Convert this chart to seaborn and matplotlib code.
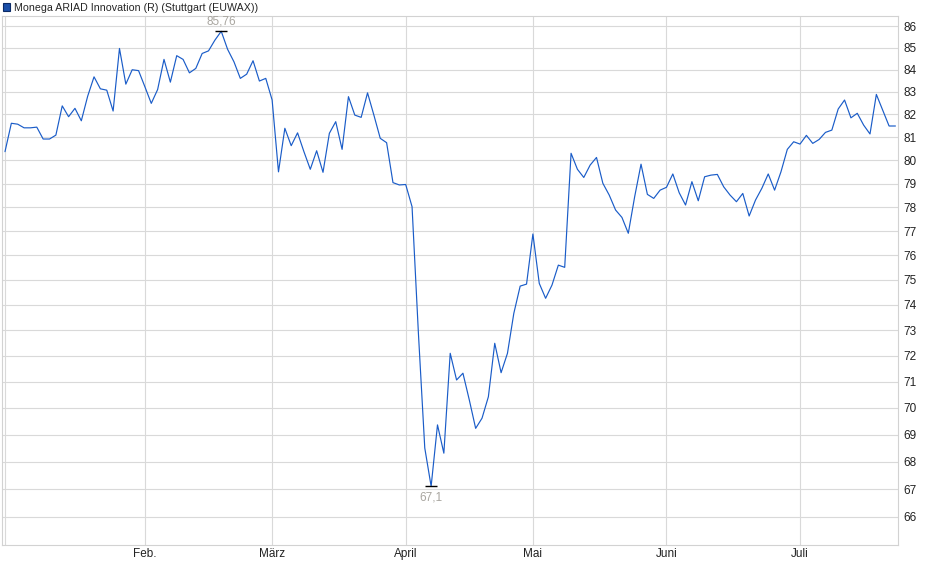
import numpy as np
import pandas as pd
import matplotlib
matplotlib.use("Agg")
import matplotlib.pyplot as plt
from matplotlib.patches import Patch
from matplotlib.ticker import FixedLocator, NullLocator
import seaborn as sns

# closing prices per trading day, 2 Jan - 22 Jul
prices = [
    80.37, 81.61, 81.57, 81.41, 81.41, 81.44, 80.92, 80.92, 81.09, 82.38,
    81.90, 82.27, 81.72, 82.81, 83.68, 83.14, 83.08, 82.15, 84.97, 83.35,
    84.00, 83.96, 83.23, 82.49, 83.11, 84.47, 83.44, 84.64, 84.47, 83.86,
    84.06, 84.74, 84.86, 85.35, 85.76, 84.93, 84.36, 83.61, 83.80, 84.41,
    83.49, 83.61, 82.64, 79.50, 81.39, 80.63, 81.19, 80.37, 79.61, 80.41,
    79.48, 81.17, 81.68, 80.47, 82.79, 81.97, 81.87, 82.96, 81.97, 80.95,
    80.76, 79.04, 78.94, 78.96, 78.02, 72.87, 68.50, 67.10, 69.36, 68.31,
    72.09, 71.06, 71.32, 70.30, 69.23, 69.61, 70.42, 72.48, 71.34, 72.09,
    73.66, 74.75, 74.83, 76.88, 74.86, 74.26, 74.79, 75.60, 75.51, 80.30,
    79.61, 79.26, 79.79, 80.12, 79.01, 78.51, 77.88, 77.57, 76.91, 78.44,
    79.83, 78.54, 78.37, 78.72, 78.84, 79.41, 78.61, 78.09, 79.08, 78.27,
    79.29, 79.36, 79.39, 78.86, 78.51, 78.23, 78.58, 77.63, 78.30, 78.80,
    79.41, 78.72, 79.50, 80.47, 80.80, 80.70, 81.08, 80.73, 80.90, 81.21,
    81.31, 82.24, 82.64, 81.85, 82.05, 81.53, 81.14, 82.89, 82.19, 81.49,
    81.49,
]

# trading-day position where each month starts
month_pos = [0, 22, 42, 63, 83, 104, 125]
month_labels = ["", "Feb.", "März", "April", "Mai", "Juni", "Juli"]
y_ticks = list(range(66, 87))

series_name = "Monega ARIAD Innovation (R) (Stuttgart (EUWAX))"

df = pd.DataFrame({"day": np.arange(len(prices)), "price": prices})

sns.set_style("white")
plt.rcParams["font.family"] = ["Liberation Sans", "DejaVu Sans"]

fig = plt.figure(figsize=(9.4, 5.79), dpi=100)
ax = fig.add_axes([2 / 940, 1 - 545 / 579, 896.3 / 940, (545 - 16) / 579])

grid_c = "#d9d9d9"
line_c = "#1a5cc8"

sns.lineplot(data=df, x="day", y="price", ax=ax, color=line_c, linewidth=0.85)

ax.set_yscale("log")
ax.set_ylim(65.01, 86.47)
ax.set_xlim(-0.47, 140.45)

ax.yaxis.set_major_locator(FixedLocator(y_ticks))
ax.yaxis.set_minor_locator(NullLocator())
ax.set_yticklabels([str(t) for t in y_ticks])
ax.yaxis.tick_right()
ax.set_xticks(month_pos)
ax.set_xticklabels(month_labels)
ax.xaxis.set_minor_locator(NullLocator())

ax.tick_params(axis="y", length=0, pad=4, labelsize=8.5, colors="#222222")
ax.tick_params(axis="x", length=1.5, pad=0.5, labelsize=8.5, colors=grid_c,
               labelcolor="#222222", width=0.8)
ax.grid(True, color=grid_c, linewidth=0.8)
ax.set_axisbelow(True)
for s in ax.spines.values():
    s.set_color("#d2d2d2")
    s.set_linewidth(0.8)
ax.set_xlabel("")
ax.set_ylabel("")

# high / low markers
arr = np.array(prices)
for idx, off, va in [(int(arr.argmax()), 2.5, "bottom"), (int(arr.argmin()), -3.5, "top")]:
    ax.plot([idx], [arr[idx]], marker="_", markersize=9, color="black",
            markeredgewidth=1.0)
    ax.annotate(f"{arr[idx]:g}".replace(".", ","), (idx, arr[idx]),
                xytext=(0, off), textcoords="offset points", ha="center",
                va=va, fontsize=8.5, color="#a8a59f")

fig.legend(handles=[Patch(facecolor="#1a4fa8", edgecolor="#0b2a66", linewidth=0.8)],
           labels=[series_name], loc="upper left", bbox_to_anchor=(0.0, 1.0),
           frameon=False, fontsize=7.7, handlelength=0.7, handleheight=0.7,
           handletextpad=0.4, borderpad=0.25, borderaxespad=0.0)

fig.savefig("out.png", dpi=100)
